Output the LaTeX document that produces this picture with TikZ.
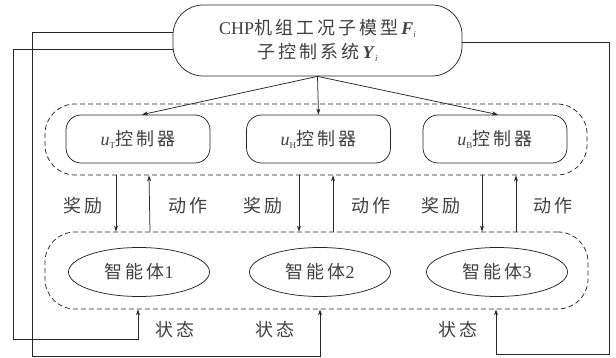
\documentclass[tikz,border=0pt]{standalone}
\usepackage{fontspec}
\setmainfont{Liberation Serif}
\newfontfamily\cjk{Noto Sans CJK SC}[LetterSpace=17]
\usetikzlibrary{arrows.meta,shapes.geometric}
\newcommand{\mysub}[1]{\raisebox{-0.35ex}{\fontsize{9}{9}\selectfont #1}}
\begin{document}
\begin{tikzpicture}[x=1pt,y=-1pt,
  ln/.style={draw=black!85, line width=0.75pt},
  arr/.style={ln, -{Stealth[length=6pt,width=4pt]}},
  txt/.style={font=\fontsize{18}{23}\selectfont, text=black!75},
  topbox/.style={ln, txt, rounded corners=30pt, minimum width=289pt, minimum height=71pt, align=center, inner sep=0pt},
  ctrl/.style={ln, txt, rounded corners=15pt, minimum width=144pt, minimum height=48pt},
  agent/.style={ln, txt, ellipse, minimum width=141pt, minimum height=49pt, inner sep=0pt},
  group/.style={draw=black!85, line width=0.75pt, dash pattern=on 5pt off 3pt, rounded corners=30pt},
  lbl/.style={txt, inner sep=0pt}]
\useasboundingbox (0,0) rectangle (616,358);

\node[topbox] (top) at (317.5,40.5) {CHP{\cjk 机组工况子模型}\textbf{\textit{F}}\mysub{\textit{i}}\\[1pt]{\cjk 子控制系统}\textbf{\textit{Y}}\mysub{\textit{i}}};

\node[group, minimum width=542pt, minimum height=71pt] (g1) at (316,139.5) {};
\node[group, minimum width=543pt, minimum height=77pt] (g2) at (316.5,270.5) {};

\node[ctrl] (c1) at (138,139) {\textit{u}\mysub{T}{\cjk 控制器}};
\node[ctrl] (c2) at (318.5,139) {\textit{u}\mysub{H}{\cjk 控制器}};
\node[ctrl] (c3) at (495,139) {\textit{u}\mysub{B}{\cjk 控制器}};

\node[agent] (a1) at (139,272) {{\cjk 智能体}1};
\node[agent] (a2) at (320,272) {{\cjk 智能体}2};
\node[agent] (a3) at (497,272) {{\cjk 智能体}3};

\draw[arr] (top.south) -- ([xshift=4pt]c1.north);
\draw[arr] (top.south) -- (c2.north);
\draw[arr] (top.south) -- ([xshift=3pt]c3.north);

\draw[arr] ([xshift=-200pt]g1.south) -- ([xshift=-200.5pt]g2.north);
\draw[arr] ([xshift=-166.5pt]g2.north) -- ([xshift=-167pt]g1.south);
\draw[arr] ([xshift=-17pt]g1.south) -- ([xshift=-17.5pt]g2.north);
\draw[arr] ([xshift=16.5pt]g2.north) -- ([xshift=17pt]g1.south);
\draw[arr] ([xshift=166pt]g1.south) -- ([xshift=165.5pt]g2.north);
\draw[arr] ([xshift=199.5pt]g2.north) -- ([xshift=200pt]g1.south);

\node[lbl] (r1) at (83,206) {\cjk 奖励};
\node[lbl] (d1) at (188,206) {\cjk 动作};
\node[lbl] (r2) at (263,206) {\cjk 奖励};
\node[lbl] (d2) at (371,206) {\cjk 动作};
\node[lbl] (r3) at (441,206) {\cjk 奖励};
\node[lbl] (d3) at (553,206) {\cjk 动作};

\node[lbl] (s1) at (175,330) {\cjk 状态};
\node[lbl] (s2) at (275,330) {\cjk 状态};
\node[lbl] (s3) at (458,330) {\cjk 状态};

\coordinate (bl) at (13,339);
\coordinate (al) at (32,356);
\coordinate (cr) at (609,354);
\draw[arr] ([yshift=-8.5pt]top.west) -| (bl) -| ([xshift=-178.5pt]g2.south);
\draw[arr] ([yshift=8.5pt]top.west) -| (al) -| ([xshift=3.5pt]g2.south);
\draw[arr] ([yshift=-1.5pt]top.east) -| (cr) -| ([xshift=179.5pt]g2.south);
\end{tikzpicture}
\end{document}
